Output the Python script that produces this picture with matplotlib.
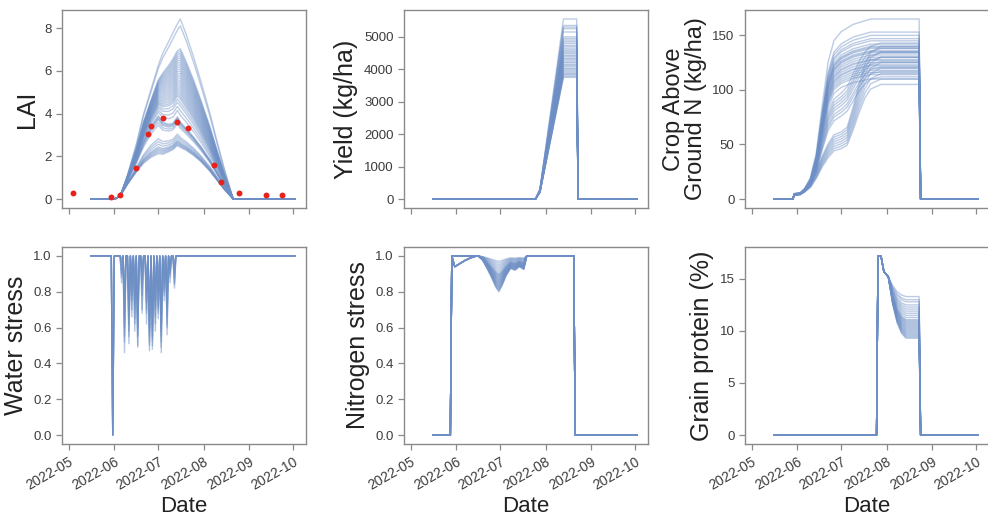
import numpy as np
import pandas as pd
import matplotlib
matplotlib.use("Agg")
import matplotlib.pyplot as plt
import matplotlib.dates as mdates

plt.rcParams['font.family'] = ['Liberation Sans', 'DejaVu Sans']

# ---------------- data ----------------
sim_start = "2022-05-16"
sim_end = "2022-10-02"

# LAI: observed points
lai_obs_dates = ["2022-05-04", "2022-05-30", "2022-06-05", "2022-06-16", "2022-06-24",
                 "2022-06-26", "2022-07-04", "2022-07-14", "2022-07-21", "2022-08-08",
                 "2022-08-13", "2022-08-25", "2022-09-12", "2022-09-23"]
lai_obs_values = [0.30, 0.11, 0.20, 1.44, 3.04, 3.43, 3.80, 3.61, 3.33, 1.60, 0.81, 0.27, 0.17, 0.19]

# LAI: three representative simulated curves (low / middle / high member)
lai_dates = ["2022-05-16", "2022-06-01", "2022-06-03", "2022-06-06", "2022-06-10", "2022-06-16",
             "2022-06-21", "2022-06-26", "2022-07-01", "2022-07-04", "2022-07-08", "2022-07-11",
             "2022-07-14", "2022-07-16", "2022-07-20", "2022-07-25", "2022-07-30", "2022-08-05",
             "2022-08-10", "2022-08-15", "2022-08-21", "2022-10-02"]
lai_low = [0, 0, 0.05, 0.25, 0.7, 1.3, 1.75, 2.05, 2.25, 2.2, 2.3, 2.4, 2.6, 2.5, 2.35, 2.1, 1.8, 1.35, 0.9, 0.45, 0, 0]
lai_mid = [0, 0, 0.05, 0.3, 0.9, 1.8, 2.7, 3.4, 3.9, 3.6, 3.5, 3.55, 3.85, 3.6, 3.3, 2.9, 2.45, 1.85, 1.25, 0.65, 0, 0]
lai_high = [0, 0, 0.05, 0.3, 1.1, 2.5, 3.9, 5.0, 6.1, 6.6, 7.1, 7.5, 7.9, 8.1, 7.4, 6.4, 5.3, 3.9, 2.6, 1.35, 0, 0]
# peak LAI of each ensemble member
lai_peaks = [2.5, 2.55, 2.6, 2.65, 2.7, 2.75, 2.85, 2.95, 3.05,
             3.55, 3.65, 3.75, 3.8, 3.85, 3.9,
             4.2, 4.4, 4.6, 4.75, 4.9, 5.0, 5.1, 5.2, 5.3, 5.4, 5.5, 5.6, 5.7, 5.8, 5.9,
             6.0, 6.1, 6.2, 6.3, 6.4, 6.5, 6.6, 6.7, 6.8, 6.9, 7.0, 7.1, 8.1, 8.4]

# Yield: fraction of the final yield along the season, and final yield per member
yield_dates = ["2022-05-16", "2022-07-25", "2022-07-28", "2022-08-13", "2022-08-22", "2022-08-23", "2022-10-02"]
yield_frac = [0, 0, 0.055, 1.0, 1.0, 0, 0]
yield_final = [3750, 3780, 3820, 3850, 3880, 3920, 3960, 4000, 4030, 4080, 4120, 4150,
               4200, 4230, 4280, 4320, 4350, 4400, 4430, 4480, 4520, 4560, 4600, 4650,
               4700, 4740, 4800, 4850, 4900, 4950, 5000, 5150, 5250, 5300, 5350, 5550]

# Crop above-ground N: fast, medium and slow uptake members (fraction of final), finals per member
cropn_dates = ["2022-05-16", "2022-05-29", "2022-05-30", "2022-06-03", "2022-06-06", "2022-06-10",
               "2022-06-14", "2022-06-18", "2022-06-22", "2022-06-26", "2022-07-01", "2022-07-05",
               "2022-07-09", "2022-07-13", "2022-07-17", "2022-07-21", "2022-07-28", "2022-08-23",
               "2022-08-24", "2022-10-02"]
cropn_fast_frac = [0, 0, 0.03, 0.035, 0.06, 0.12, 0.26, 0.52, 0.76, 0.88, 0.93, 0.95, 0.97, 0.98,
                   0.99, 1.0, 1.0, 1.0, 0, 0]
cropn_med_frac = [0, 0, 0.035, 0.04, 0.06, 0.11, 0.22, 0.4, 0.56, 0.64, 0.68, 0.72, 0.8, 0.88,
                  0.94, 0.98, 1.0, 1.0, 0, 0]
cropn_slow_frac = [0, 0, 0.035, 0.04, 0.06, 0.1, 0.18, 0.28, 0.36, 0.42, 0.44, 0.47, 0.6, 0.75,
                   0.88, 0.96, 1.0, 1.0, 0, 0]
cropn_fast_final = [165, 153, 150, 147, 145, 142, 140, 139, 138, 136, 135, 134, 132, 130, 128,
                    127, 125, 123, 122, 120, 118, 116, 114, 110]
cropn_med_final = [143, 138, 134, 130, 126, 121, 117, 112]
cropn_slow_final = [140, 135, 130, 125, 120, 115, 110, 105]

# Water stress: one deep dip for all members, then rain-gap dips per member
water_dip_date = "2022-05-31"
water_dip_value = 0.0
water_event_dates = ["2022-06-06", "2022-06-08", "2022-06-11", "2022-06-13", "2022-06-15", "2022-06-17",
                     "2022-06-20", "2022-06-23", "2022-06-25", "2022-06-27", "2022-06-29", "2022-07-01",
                     "2022-07-03", "2022-07-05", "2022-07-07", "2022-07-09", "2022-07-12"]
water_m1 = [0.95, 0.46, 0.62, 0.80, 0.70, 0.55, 0.90, 0.62, 0.47, 0.60, 0.75, 0.85, 0.46, 0.80, 0.62, 0.92, 0.85]
water_m2 = [0.90, 0.55, 0.51, 0.88, 0.65, 0.50, 0.70, 0.75, 0.52, 0.58, 0.66, 0.75, 0.55, 0.85, 0.56, 0.88, 0.82]
water_m3 = [0.98, 0.65, 0.58, 0.75, 0.62, 0.49, 0.85, 0.68, 0.55, 0.50, 0.80, 0.70, 0.60, 0.90, 0.70, 0.95, 0.90]
water_m4 = [0.85, 0.72, 0.66, 0.70, 0.78, 0.60, 0.68, 0.80, 0.60, 0.48, 0.70, 0.65, 0.52, 0.75, 0.66, 0.85, 0.95]
water_m5 = [0.92, 0.80, 0.70, 0.85, 0.85, 0.68, 0.92, 0.70, 0.65, 0.55, 0.62, 0.80, 0.68, 0.88, 0.75, 0.90, 0.88]
water_m6 = [0.97, 0.60, 0.75, 0.92, 0.58, 0.72, 0.78, 0.86, 0.50, 0.66, 0.85, 0.72, 0.58, 0.82, 0.80, 0.97, 0.92]
water_m7 = [0.88, 0.85, 0.55, 0.66, 0.90, 0.64, 0.95, 0.74, 0.70, 0.53, 0.72, 0.90, 0.64, 0.95, 0.60, 0.93, 0.96]
water_m8 = [0.99, 0.52, 0.80, 0.78, 0.74, 0.56, 0.82, 0.90, 0.58, 0.70, 0.58, 0.68, 0.49, 0.78, 0.85, 0.90, 0.84]

# Nitrogen stress
n_on_dates = ["2022-05-16", "2022-05-28", "2022-05-29"]
n_on_values = [0, 0, 1.0]
n_early_dates = ["2022-05-31", "2022-06-03", "2022-06-07", "2022-06-11", "2022-06-15"]
n_early_values = [0.94, 0.955, 0.975, 0.99, 1.0]
n_dip_dates = ["2022-06-16", "2022-06-19", "2022-06-22", "2022-06-25", "2022-06-28", "2022-06-30",
               "2022-07-02", "2022-07-05", "2022-07-08", "2022-07-11", "2022-07-14", "2022-07-17",
               "2022-07-19"]
n_dip_frac = [0, 0.12, 0.35, 0.6, 0.88, 1.0, 0.85, 0.55, 0.35, 0.4, 0.3, 0.38, 0]
n_off_dates = ["2022-08-20", "2022-08-21", "2022-10-02"]
n_off_values = [1.0, 0, 0]
n_min = [0.80, 0.805, 0.81, 0.815, 0.82, 0.825, 0.83, 0.835, 0.84, 0.845, 0.85, 0.855, 0.86,
         0.865, 0.87, 0.875, 0.88, 0.885, 0.89, 0.895, 0.90, 0.91, 0.92, 0.93, 0.94, 0.95, 0.96, 0.97]

# Grain protein
gp_head_dates = ["2022-05-16", "2022-07-25", "2022-07-26", "2022-07-28", "2022-07-30", "2022-08-02"]
gp_head_values = [0, 0, 17.2, 17.2, 15.7, 15.2]
gp_decay_dates = ["2022-08-05", "2022-08-08", "2022-08-11", "2022-08-14", "2022-08-23"]
gp_decay_frac = [0.55, 0.25, 0.08, 0.0, 0.0]
gp_tail_dates = ["2022-08-24", "2022-10-02"]
gp_final = [9.3, 9.4, 9.5, 9.6, 9.7, 9.8, 9.9, 10.0, 10.1, 10.2, 10.3, 10.4, 10.5, 10.6, 10.7,
            10.8, 10.9, 11.0, 11.1, 11.3, 11.5, 11.7, 11.9, 12.1, 12.3, 12.5, 12.8, 13.0, 13.3]

# ---------------- figure ----------------
LINE = '#6d8fc5'
ALPHA = 0.45
LW = 1.0
SPINE = '#8a8a8a'

W, H = 988, 520
fig = plt.figure(figsize=(W / 100, H / 100), dpi=100)
col_left = [62, 404, 745]
aw = 244
rows = [(10, 208), (247, 444)]
axes = {}
first = None
for r, (top, bot) in enumerate(rows):
    for c, left in enumerate(col_left):
        rect = [left / W, 1 - bot / H, aw / W, (bot - top) / H]
        ax = fig.add_axes(rect, sharex=first)
        if first is None:
            first = ax
        axes[(r, c)] = ax

def D(lst):
    return pd.to_datetime(lst)

# LAI
ax = axes[(0, 0)]
lo, mi, hi = np.array(lai_low), np.array(lai_mid), np.array(lai_high)
for p in lai_peaks:
    if p <= max(lai_mid):
        w = (p - max(lai_low)) / (max(lai_mid) - max(lai_low))
        y = lo + w * (mi - lo)
    else:
        w = (p - max(lai_mid)) / (max(lai_high) - max(lai_mid))
        y = mi + w * (hi - mi)
    ax.plot(D(lai_dates), np.clip(y, 0, None), color=LINE, alpha=ALPHA, lw=LW)
ax.scatter(D(lai_obs_dates), lai_obs_values, color='#e8211a', s=18, zorder=5, linewidths=0)
ax.set_ylabel('LAI')

# Yield
ax = axes[(0, 1)]
for f in yield_final:
    ax.plot(D(yield_dates), np.array(yield_frac) * f, color=LINE, alpha=ALPHA, lw=LW)
ax.set_ylabel('Yield (kg/ha)')

# Crop N
ax = axes[(0, 2)]
for frac, finals in [(cropn_fast_frac, cropn_fast_final), (cropn_med_frac, cropn_med_final),
                     (cropn_slow_frac, cropn_slow_final)]:
    for f in finals:
        ax.plot(D(cropn_dates), np.array(frac) * f, color=LINE, alpha=ALPHA, lw=LW)
ax.set_ylabel('Crop Above\nGround N (kg/ha)', linespacing=1.0)

# Water stress
ax = axes[(1, 0)]
days = pd.date_range(sim_start, sim_end, freq='D')
for mem in [water_m1, water_m2, water_m3, water_m4, water_m5, water_m6, water_m7, water_m8]:
    s = pd.Series(1.0, index=days)
    s[pd.Timestamp(water_dip_date)] = water_dip_value
    for d, v in zip(water_event_dates, mem):
        s[pd.Timestamp(d)] = v
    ax.plot(s.index, s.values, color=LINE, alpha=0.5, lw=LW)
ax.set_ylabel('Water stress')

# Nitrogen stress
ax = axes[(1, 1)]
for i, m in enumerate(n_min):
    xs = list(n_on_dates)
    ys = list(n_on_values)
    if i % 2 == 0:
        xs += n_early_dates
        ys += n_early_values
    xs += n_dip_dates
    ys += list(1 - (1 - m) * np.array(n_dip_frac))
    xs += n_off_dates
    ys += n_off_values
    ax.plot(D(xs), ys, color=LINE, alpha=ALPHA, lw=LW)
ax.set_ylabel('Nitrogen stress')

# Grain protein
ax = axes[(1, 2)]
for f in gp_final:
    xs = gp_head_dates + gp_decay_dates + gp_tail_dates
    ys = gp_head_values + list(f + (gp_head_values[-1] - f) * np.array(gp_decay_frac)) + [0, 0]
    ax.plot(D(xs), ys, color=LINE, alpha=ALPHA, lw=LW)
ax.set_ylabel('Grain protein (%)')

# styling
for (r, c), ax in axes.items():
    for sp in ax.spines.values():
        sp.set_color(SPINE)
        sp.set_linewidth(1.0)
    ax.tick_params(direction='out', length=4, width=0.9, color=SPINE,
                   labelcolor='#3c3c3c', labelsize=9.5)
    ax.yaxis.label.set_size(18)
    ax.yaxis.label.set_color('#222222')
    ax.xaxis.set_major_locator(mdates.MonthLocator())
    ax.xaxis.set_major_formatter(mdates.DateFormatter('%Y-%m'))
    if r == 0:
        ax.tick_params(axis='x', labelbottom=False)
    else:
        for lab in ax.get_xticklabels():
            lab.set_rotation(30)
            lab.set_ha('right')
            lab.set_rotation_mode('anchor')
            lab.set_fontsize(10)
        ax.set_xlabel('Date', fontsize=16, color='#222222', labelpad=3)

axes[(0, 2)].yaxis.label.set_size(17)
axes[(1, 0)].set_yticks([0.0, 0.2, 0.4, 0.6, 0.8, 1.0])
axes[(1, 1)].set_yticks([0.0, 0.2, 0.4, 0.6, 0.8, 1.0])
axes[(0, 2)].set_yticks([0, 50, 100, 150])
axes[(1, 2)].set_yticks([0, 5, 10, 15])

fig.savefig('out.png', dpi=100)
